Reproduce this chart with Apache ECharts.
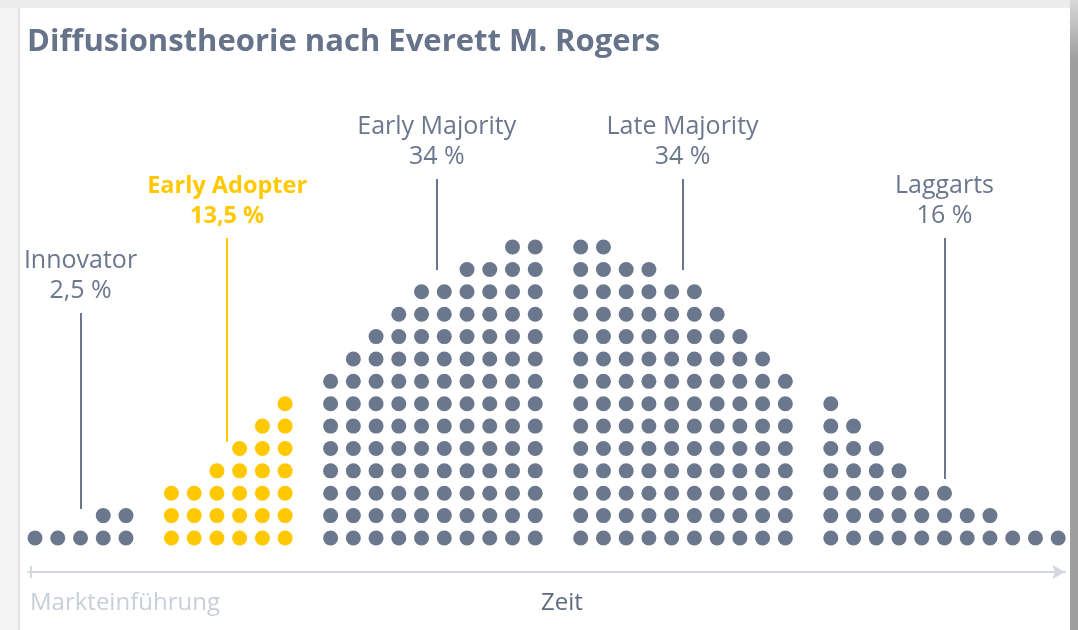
<!DOCTYPE html>
<html>
<head>
<meta charset="utf-8">
<script src="https://cdn.jsdelivr.net/npm/echarts@6/dist/echarts.min.js"></script>
<style>
  html, body { margin:0; padding:0; width:1078px; height:630px; overflow:hidden; background:#f3f3f3; }
  #topstrip { position:absolute; left:0; top:0; width:1078px; height:8px; background:#ececec; }
  #card { position:absolute; left:18px; top:8px; width:1052px; height:622px; background:#ffffff; border-left:2px solid #e3e3e3; box-sizing:border-box; }
  #rightstrip { position:absolute; left:1070px; top:0; width:8px; height:630px; background:linear-gradient(#d8d8d8, #9e9e9e 60px, #9e9e9e); }
  #chart { position:absolute; left:0; top:0; width:1078px; height:630px; }
</style>
</head>
<body>
<div id="topstrip"></div>
<div id="card"></div>
<div id="rightstrip"></div>
<div id="chart"></div>
<script>
// ---- data ----
const groupNames = ['Innovator', 'Early Adopter', 'Early Majority', 'Late Majority', 'Laggarts'];
const groupShares = ['2,5 %', '13,5 %', '34 %', '34 %', '16 %'];
const innovatorDots = [1, 1, 1, 2, 2];
const earlyAdopterDots = [3, 3, 4, 5, 6, 7];
const earlyMajorityDots = [8, 9, 10, 11, 12, 12, 13, 13, 14, 14];
const lateMajorityDots = [14, 14, 13, 13, 12, 12, 11, 10, 9, 8];
const laggardDots = [7, 6, 5, 4, 3, 3, 2, 2, 1, 1, 1];
const chartTitle = 'Diffusionstheorie nach Everett M. Rogers';
const axisStartLabel = 'Markteinführung';
const axisName = 'Zeit';

// ---- styling / layout ----
const GRAY = '#6b778d';
const YELLOW = '#ffc800';
const FONT = "'Open Sans', sans-serif";
// annotation line anchors (x in column slots, y in dot rows)
const annotLayout = [
  { x: 2,     y0: 1.3,   y1: 10.05 },
  { x: 8.45,  y0: 4.3,   y1: 13.4 },
  { x: 17.67, y0: 11.97, y1: 16.04 },
  { x: 28.48, y0: 11.97, y1: 16.04 },
  { x: 40,    y0: 2.64,  y1: 13.4 }
];

const groups = [innovatorDots, earlyAdopterDots, earlyMajorityDots, lateMajorityDots, laggardDots];
const grayPts = [], yellowPts = [];
let col = 0;
groups.forEach((g, gi) => {
  g.forEach(h => {
    for (let r = 0; r < h; r++) (gi === 1 ? yellowPts : grayPts).push([col, r]);
    col++;
  });
  col++; // gap between groups
});

const shareByName = {};
groupNames.forEach((n, i) => shareByName[n] = groupShares[i]);

const markData = annotLayout.map((a, i) => {
  const isY = i === 1;
  return [
    { coord: [a.x, a.y0], name: groupNames[i], lineStyle: { color: isY ? YELLOW : GRAY } },
    { coord: [a.x, a.y1] }
  ];
});

const labelStyle = { fontFamily: FONT, fontSize: 25, lineHeight: 30, color: GRAY, align: 'center' };
const labelStyleY = Object.assign({}, labelStyle, { color: YELLOW, fontWeight: 'bold', fontSize: 23.5 });

const chart = echarts.init(document.getElementById('chart'), null, { renderer: 'canvas' });
chart.setOption({
  backgroundColor: 'transparent',
  animation: false,
  title: [
    { text: chartTitle, left: 22, top: 22,
      textStyle: { fontFamily: FONT, fontSize: 31, fontWeight: 'bold', color: '#66738b' } },
    { text: axisStartLabel, left: 25, top: 586,
      textStyle: { fontFamily: FONT, fontSize: 24, fontWeight: 'normal', color: '#c9ced8' } },
    { text: axisName, left: 557, top: 586, textAlign: 'center',
      textStyle: { fontFamily: FONT, fontSize: 24, fontWeight: 'normal', color: '#5f6b80' } }
  ],
  grid: { left: 28.2, right: 13, top: 45.64, bottom: 92 },
  xAxis: {
    type: 'value', min: -0.3, max: 45.3, offset: 34,
    splitLine: { show: false }, axisTick: { show: false }, axisLabel: { show: false },
    axisLine: { show: true, onZero: false, symbol: ['none', 'arrow'], symbolSize: [11, 13], lineStyle: { color: '#d3d8e0', width: 2 } }
  },
  yAxis: { type: 'value', min: 0, max: 22, show: false, splitLine: { show: false } },
  graphic: [
    { type: 'line', shape: { x1: 31, y1: 566, x2: 31, y2: 578 }, style: { stroke: '#d3d8e0', lineWidth: 2 } }
  ],
  series: [
    {
      type: 'scatter', name: 'gray', data: grayPts, symbol: 'circle', symbolSize: 15,
      itemStyle: { color: GRAY, opacity: 1 }, silent: true,
      markLine: {
        silent: true, symbol: ['none', 'none'], animation: false,
        lineStyle: { color: GRAY, width: 2, type: 'solid' },
        label: {
          show: true, position: 'end', distance: 7,
          formatter: p => p.name === 'Early Adopter'
            ? `{ny|${p.name}}\n{vy|${shareByName[p.name]}}`
            : `{n|${p.name}}\n{v|${shareByName[p.name]}}`,
          rich: { n: labelStyle, v: labelStyle, ny: labelStyleY, vy: labelStyleY }
        },
        emphasis: { disabled: true },
        data: markData
      }
    },
    {
      type: 'scatter', name: 'yellow', data: yellowPts, symbol: 'circle', symbolSize: 15,
      itemStyle: { color: YELLOW, opacity: 1 }, silent: true
    }
  ]
});
</script>
</body>
</html>
